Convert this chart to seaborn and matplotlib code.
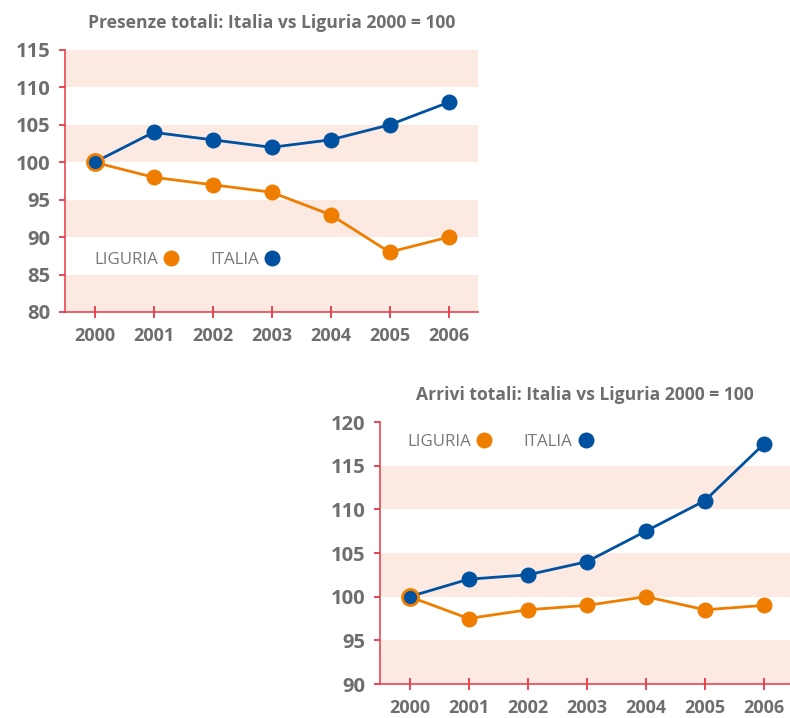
import matplotlib
matplotlib.use("Agg")
import matplotlib.pyplot as plt
from matplotlib.lines import Line2D
import seaborn as sns
import pandas as pd

years = [2000, 2001, 2002, 2003, 2004, 2005, 2006]
year_labels = [str(y) for y in years]

presenze_liguria = [100, 98, 97, 96, 93, 88, 90]
presenze_italia = [100, 104, 103, 102, 103, 105, 108]

arrivi_liguria = [100, 97.5, 98.5, 99, 100, 98.5, 99]
arrivi_italia = [100, 102, 102.5, 104, 107.5, 111, 117.5]

title_top = "Presenze totali: Italia vs Liguria 2000 = 100"
title_bottom = "Arrivi totali: Italia vs Liguria 2000 = 100"
yticks_top = [80, 85, 90, 95, 100, 105, 110, 115]
yticks_bottom = [90, 95, 100, 105, 110, 115, 120]
bands_top = [80, 90, 100, 110]
bands_bottom = [90, 100, 110]

ORANGE = "#EF7D00"
BLUE = "#0052A0"
BAND = "#FCEAE2"
RED = "#E63946"
GRAY = "#6E6E6E"

sns.set_style("white")
plt.rcParams["font.family"] = ["Open Sans", "DejaVu Sans"]
plt.rcParams["xtick.bottom"] = True
plt.rcParams["ytick.left"] = True

fig = plt.figure(figsize=(7.9, 7.18), dpi=100)
ax1 = fig.add_axes([65 / 790, 1 - 312 / 718, 413 / 790, 262 / 718])
ax2 = fig.add_axes([380 / 790, 1 - 684 / 718, 410 / 790, 262 / 718])


def draw(ax, liguria, italia, yticks, bands, title, xright, leg_anchor):
    idx = list(range(len(years)))
    for lo in bands:
        ax.axhspan(lo, lo + 5, color=BAND, lw=0, zorder=0)
    df = pd.DataFrame({"x": idx + idx,
                       "v": list(liguria) + list(italia),
                       "s": ["LIGURIA"] * len(idx) + ["ITALIA"] * len(idx)})
    sns.lineplot(data=df, x="x", y="v", hue="s",
                 palette={"LIGURIA": ORANGE, "ITALIA": BLUE},
                 marker="o", markersize=11.5, markeredgewidth=0,
                 linewidth=2, ax=ax, legend=False, zorder=3)
    ax.plot([idx[0]], [italia[0]], marker="o", markersize=11.5,
            markerfacecolor=BLUE, markeredgecolor=ORANGE,
            markeredgewidth=2, linestyle="none", zorder=5)
    ax.set_xlim(-0.5, xright)
    ax.set_ylim(yticks[0], yticks[-1])
    ax.set_xticks(idx)
    ax.set_xticklabels(year_labels)
    ax.set_yticks(yticks)
    ax.set_xlabel("")
    ax.set_ylabel("")
    for s in ["top", "right"]:
        ax.spines[s].set_visible(False)
    for s in ["left", "bottom"]:
        ax.spines[s].set_color(RED)
        ax.spines[s].set_linewidth(1.3)
        ax.spines[s].set_alpha(0.85)
    ax.tick_params(axis="x", which="major", bottom=True, direction="inout",
                   length=9, width=1.3, color=RED, pad=6, labelsize=13,
                   labelcolor=GRAY)
    ax.tick_params(axis="y", which="major", left=True, direction="out",
                   length=4.5, width=1.3, color=RED, pad=6, labelsize=14.5,
                   labelcolor=GRAY)
    for lab in ax.get_xticklabels() + ax.get_yticklabels():
        lab.set_fontweight("bold")
    ax.set_title(title, fontsize=12.6, fontweight="bold", color=GRAY, pad=16)
    ax.set_facecolor("none")
    handles = [Line2D([], [], marker="o", color=ORANGE, linestyle="none",
                      markersize=11.5, markeredgewidth=0),
               Line2D([], [], marker="o", color=BLUE, linestyle="none",
                      markersize=11.5, markeredgewidth=0)]
    leg = ax.legend(handles, ["LIGURIA", "ITALIA"], ncol=2, markerfirst=False,
                    frameon=False, loc="center left", bbox_to_anchor=leg_anchor,
                    fontsize=12.2, handlelength=0.8, handletextpad=0.4,
                    columnspacing=1.9, borderpad=0, borderaxespad=0)
    for t in leg.get_texts():
        t.set_color("#787878")
        t.set_fontweight("normal")


draw(ax1, presenze_liguria, presenze_italia, yticks_top, bands_top, title_top,
     6.5, (0.07, 0.20))
draw(ax2, arrivi_liguria, arrivi_italia, yticks_bottom, bands_bottom, title_bottom,
     6.44, (0.066, 0.925))

fig.savefig("out.png", dpi=100)
